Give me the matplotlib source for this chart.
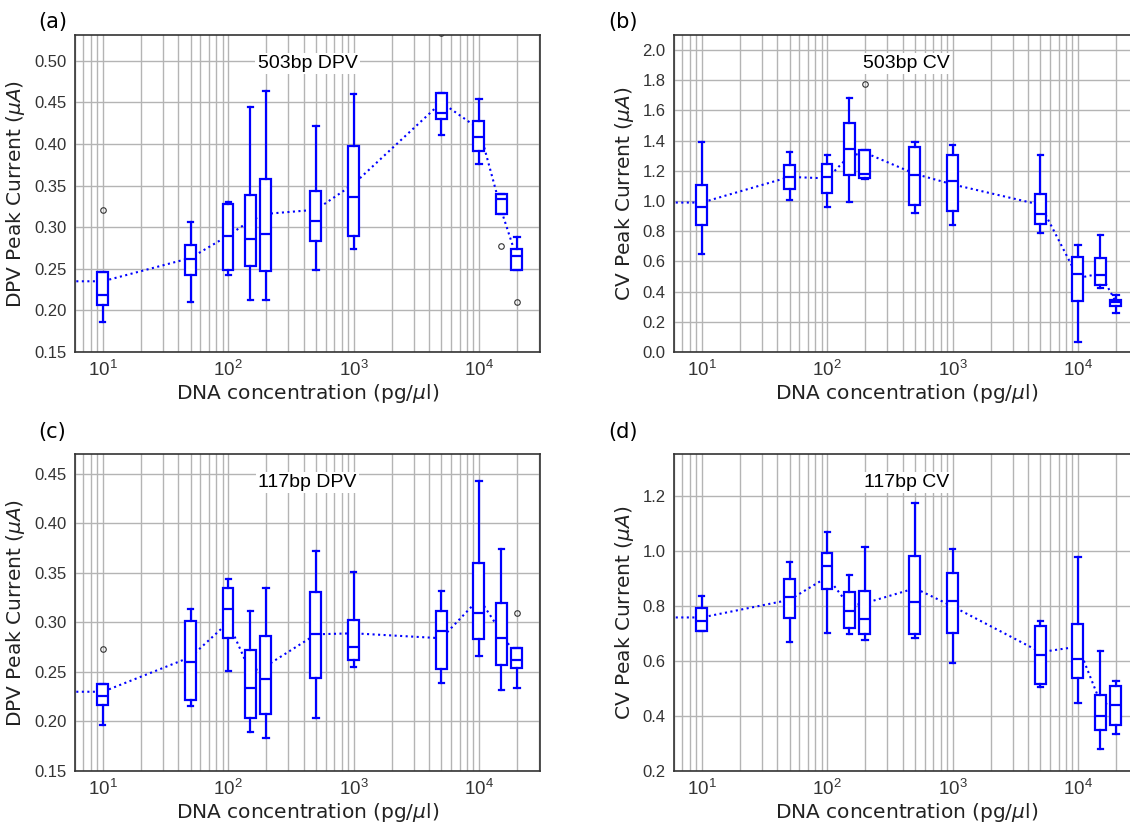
import matplotlib
matplotlib.use('Agg')
import matplotlib.pyplot as plt

plt.rcParams['font.family'] = ['Liberation Sans', 'DejaVu Sans']

conc = [10, 50, 100, 150, 200, 500, 1000, 5000, 10000, 15000, 20000]

# (a) 503bp DPV
dpv503_lo = [0.186, 0.210, 0.243, 0.212, 0.213, 0.248, 0.274, 0.411, 0.376, 0.316, 0.249]
dpv503_q1 = [0.207, 0.242, 0.249, 0.253, 0.247, 0.284, 0.290, 0.430, 0.392, 0.316, 0.249]
dpv503_med = [0.218, 0.262, 0.289, 0.286, 0.292, 0.308, 0.336, 0.437, 0.409, 0.334, 0.265]
dpv503_q3 = [0.246, 0.279, 0.328, 0.339, 0.358, 0.344, 0.397, 0.461, 0.428, 0.340, 0.274]
dpv503_hi = [0.246, 0.306, 0.330, 0.445, 0.464, 0.422, 0.460, 0.461, 0.454, 0.340, 0.288]
dpv503_mean = [0.235, 0.263, 0.290, 0.308, 0.316, 0.321, 0.352, 0.450, 0.418, 0.320, 0.262]
dpv503_fliers = [[0.321], [], [], [], [], [], [], [0.534], [], [0.278], [0.210]]

# (b) 503bp CV
cv503_lo = [0.649, 1.008, 0.963, 0.997, 1.145, 0.924, 0.839, 0.786, 0.066, 0.421, 0.257]
cv503_q1 = [0.839, 1.079, 1.056, 1.174, 1.154, 0.977, 0.937, 0.846, 0.341, 0.441, 0.308]
cv503_med = [0.959, 1.158, 1.158, 1.347, 1.176, 1.172, 1.130, 0.915, 0.516, 0.509, 0.328]
cv503_q3 = [1.107, 1.236, 1.243, 1.517, 1.338, 1.358, 1.307, 1.045, 0.627, 0.620, 0.343]
cv503_hi = [1.389, 1.322, 1.302, 1.681, 1.338, 1.389, 1.373, 1.302, 0.711, 0.773, 0.377]
cv503_mean = [0.990, 1.160, 1.150, 1.300, 1.320, 1.180, 1.110, 0.975, 0.490, 0.520, 0.330]
cv503_fliers = [[], [], [], [], [1.778], [], [], [], [], [], []]

# (c) 117bp DPV
dpv117_lo = [0.196, 0.216, 0.251, 0.189, 0.183, 0.204, 0.255, 0.239, 0.266, 0.232, 0.234]
dpv117_q1 = [0.217, 0.222, 0.284, 0.204, 0.208, 0.244, 0.262, 0.253, 0.283, 0.257, 0.254]
dpv117_med = [0.226, 0.260, 0.314, 0.234, 0.243, 0.288, 0.275, 0.291, 0.310, 0.284, 0.262]
dpv117_q3 = [0.238, 0.301, 0.335, 0.272, 0.286, 0.331, 0.302, 0.312, 0.360, 0.320, 0.274]
dpv117_hi = [0.238, 0.314, 0.344, 0.312, 0.335, 0.372, 0.351, 0.332, 0.443, 0.374, 0.274]
dpv117_mean = [0.230, 0.265, 0.300, 0.250, 0.256, 0.288, 0.289, 0.284, 0.324, 0.290, 0.264]
dpv117_fliers = [[0.273], [], [], [], [], [], [], [], [], [], [0.309]]

# (d) 117bp CV
cv117_lo = [0.708, 0.667, 0.701, 0.698, 0.676, 0.682, 0.594, 0.505, 0.446, 0.280, 0.335]
cv117_q1 = [0.710, 0.756, 0.863, 0.719, 0.699, 0.699, 0.701, 0.516, 0.537, 0.349, 0.367]
cv117_med = [0.745, 0.834, 0.945, 0.781, 0.754, 0.813, 0.816, 0.622, 0.608, 0.399, 0.440]
cv117_q3 = [0.793, 0.898, 0.994, 0.852, 0.853, 0.983, 0.920, 0.728, 0.733, 0.475, 0.509]
cv117_hi = [0.836, 0.961, 1.068, 0.912, 1.015, 1.173, 1.007, 0.744, 0.979, 0.637, 0.526]
cv117_mean = [0.758, 0.822, 0.905, 0.800, 0.810, 0.864, 0.798, 0.632, 0.652, 0.450, 0.434]
cv117_fliers = [[], [], [], [], [], [], [], [], [], [], []]


def draw_panel(ax, lo, q1, med, q3, hi, mean, fliers, ylim, yticks, title, ylabel):
    stats = []
    for i in range(len(conc)):
        stats.append(dict(whislo=lo[i], q1=q1[i], med=med[i], q3=q3[i],
                          whishi=hi[i], fliers=fliers[i]))
    widths = [c * 0.2 for c in conc]
    ax.bxp(stats, positions=conc, widths=widths, showfliers=True, patch_artist=True,
           boxprops=dict(facecolor='white', edgecolor='blue', lw=1.6),
           medianprops=dict(color='blue', lw=1.6),
           whiskerprops=dict(color='blue', lw=1.6),
           capprops=dict(color='blue', lw=1.6),
           flierprops=dict(marker='o', markerfacecolor='none', markeredgecolor='#333333',
                           markersize=4, markeredgewidth=0.8),
           manage_ticks=False, zorder=3)
    # mean line, starts off the left edge
    ax.plot([1] + conc, [mean[0]] + mean, color='blue', linestyle=':', lw=1.5, zorder=2)
    ax.set_xscale('log')
    ax.set_xlim(6, 30500)
    ax.set_ylim(*ylim)
    ax.set_yticks(yticks)
    ax.grid(True, which='major', color='#b4b4b4', lw=1.0)
    ax.grid(True, which='minor', axis='x', color='#b4b4b4', lw=1.0)
    ax.set_axisbelow(True)
    ax.tick_params(which='both', length=0, colors='#333333', pad=6)
    ax.tick_params(axis='y', labelsize=12)
    ax.tick_params(axis='x', labelsize=13.5)
    for s in ax.spines.values():
        s.set_color('#333333')
        s.set_linewidth(1.2)
    ax.set_xlabel('DNA concentration (pg/$\\mu$l)', fontsize=14.5, family='DejaVu Sans',
                  color='#222222', labelpad=1)
    ax.set_ylabel(ylabel, fontsize=14.5, family='DejaVu Sans', color='#222222', labelpad=5)
    ax.text(0.5, 0.91, title, transform=ax.transAxes, ha='center', va='center',
            fontsize=14, color='black',
            bbox=dict(facecolor='white', edgecolor='none', pad=1.5))


fig = plt.figure(figsize=(11.3, 8.23), dpi=100)
W, H = 1130, 823
ax_w, ax_h = 465 / W, 317 / H
ax_a = fig.add_axes([75 / W, 1 - 352 / H, ax_w, ax_h])
ax_b = fig.add_axes([674 / W, 1 - 352 / H, ax_w, ax_h])
ax_c = fig.add_axes([75 / W, 1 - 771 / H, ax_w, ax_h])
ax_d = fig.add_axes([674 / W, 1 - 771 / H, ax_w, ax_h])

draw_panel(ax_a, dpv503_lo, dpv503_q1, dpv503_med, dpv503_q3, dpv503_hi, dpv503_mean,
           dpv503_fliers, (0.15, 0.531), [0.15, 0.20, 0.25, 0.30, 0.35, 0.40, 0.45, 0.50],
           '503bp DPV', 'DPV Peak Current ($\\mu A$)')
draw_panel(ax_b, cv503_lo, cv503_q1, cv503_med, cv503_q3, cv503_hi, cv503_mean,
           cv503_fliers, (0.0, 2.1), [0.0, 0.2, 0.4, 0.6, 0.8, 1.0, 1.2, 1.4, 1.6, 1.8, 2.0],
           '503bp CV', 'CV Peak Current ($\\mu A$)')
draw_panel(ax_c, dpv117_lo, dpv117_q1, dpv117_med, dpv117_q3, dpv117_hi, dpv117_mean,
           dpv117_fliers, (0.15, 0.47), [0.15, 0.20, 0.25, 0.30, 0.35, 0.40, 0.45],
           '117bp DPV', 'DPV Peak Current ($\\mu A$)')
draw_panel(ax_d, cv117_lo, cv117_q1, cv117_med, cv117_q3, cv117_hi, cv117_mean,
           cv117_fliers, (0.2, 1.352), [0.2, 0.4, 0.6, 0.8, 1.0, 1.2],
           '117bp CV', 'CV Peak Current ($\\mu A$)')

for lbl, x, y in [('(a)', 38, 22), ('(b)', 608, 22), ('(c)', 38, 432), ('(d)', 608, 432)]:
    fig.text(x / W, 1 - y / H, lbl, fontsize=15, family='DejaVu Sans', va='center')

fig.savefig('out.png', dpi=100)
